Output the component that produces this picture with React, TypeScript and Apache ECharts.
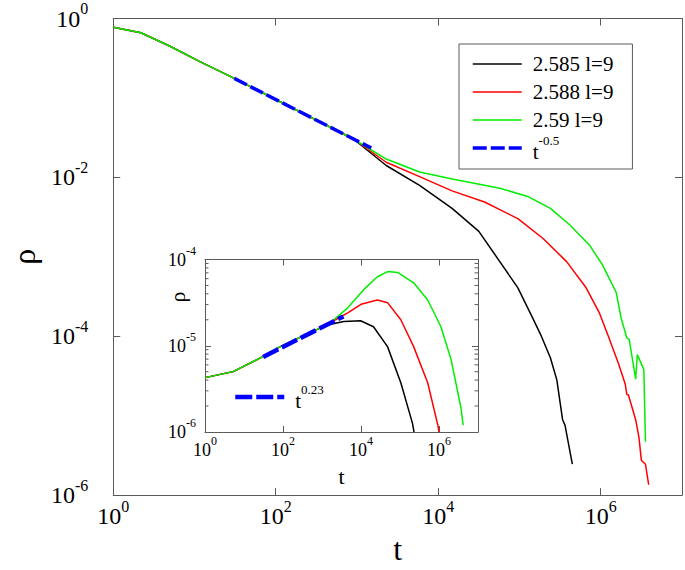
import React, { useEffect, useRef } from "react";
import * as echarts from "echarts";

const FONT = "Liberation Serif, Times New Roman, serif";

// ---------- main panel (t, rho) ----------
const sharedT = [1, 2.19, 5.0, 11.5, 30.9, 100, 316, 912];
const sharedRho = [0.776, 0.661, 0.447, 0.288, 0.176, 0.0955, 0.0525, 0.0302];

const blackT = [2290, 5890, 14800, 31600, 53700, 95500, 145000, 182000, 240000, 288000, 339000, 363000, 447000];
const blackRho = [0.0141, 0.00794, 0.00407, 0.00209, 9.55e-4, 4.07e-4, 1.7e-4, 1.05e-4, 5.37e-5, 2.82e-5, 8.9e-6, 7.6e-6, 2.45e-6];

const redT = [2290, 5890, 14800, 37200, 95500, 195000, 380000, 661000, 955000, 1.26e6, 1.66e6, 2.0e6, 2.09e6, 2.19e6, 2.69e6, 2.95e6, 3.16e6, 3.55e6, 3.89e6];
const redRho = [0.0155, 0.0102, 0.00676, 0.0049, 0.00302, 0.0017, 8.7e-4, 4.07e-4, 2.0e-4, 9.55e-5, 4.47e-5, 2.51e-5, 1.86e-5, 1.82e-5, 8.9e-6, 5.37e-6, 2.75e-6, 2.45e-6, 1.35e-6];

const greenT = [2290, 5890, 14800, 37200, 58900, 126000, 240000, 417000, 724000, 1.05e6, 1.55e6, 1.78e6, 2.09e6, 2.24e6, 2.69e6, 2.82e6, 3.39e6, 3.55e6];
const greenRho = [0.017, 0.0117, 0.00955, 0.00794, 0.00724, 0.00575, 0.00407, 0.00251, 0.00141, 7.9e-4, 3.55e-4, 1.7e-4, 9.55e-5, 9.1e-5, 2.88e-5, 5.9e-5, 3.8e-5, 4.7e-6];

const fitT = [30.9, 1500];
const fitRho = [0.176, 0.0234];

// ---------- inset panel (t, rho) ----------
const insetSharedT = [1, 5.25, 26.3, 85.1, 282, 759];
const insetSharedRho = [4.27e-6, 5.01e-6, 7.24e-6, 9.77e-6, 1.26e-5, 1.55e-5];

const insetBlackT = [1350, 3630, 9770, 20900, 47900, 105000, 209000, 229000];
const insetBlackRho = [1.74e-5, 1.91e-5, 1.95e-5, 1.66e-5, 9.77e-6, 3.72e-6, 1.26e-6, 1.0e-6];

const insetRedT = [1660, 4570, 10000, 26300, 47900, 105000, 224000, 513000, 933000, 1.0e6];
const insetRedRho = [1.86e-5, 2.4e-5, 3.02e-5, 3.39e-5, 3.16e-5, 2.0e-5, 9.77e-6, 3.72e-6, 1.2e-6, 1.0e-6];

const insetGreenT = [1660, 4570, 11700, 26300, 47900, 87100, 224000, 513000, 1.12e6, 2.04e6, 3.63e6, 4.17e6];
const insetGreenRho = [1.86e-5, 2.75e-5, 4.47e-5, 6.31e-5, 7.24e-5, 7.08e-5, 5.37e-5, 3.39e-5, 1.66e-5, 6.92e-6, 1.95e-6, 1.2e-6];

const insetFitT = [30.9, 3550];
const insetFitRho = [7.41e-6, 2.19e-5];

const insetMinorTicks = [2e-6, 3e-6, 4e-6, 5e-6, 6e-6, 7e-6, 8e-6, 9e-6, 2e-5, 3e-5, 4e-5, 5e-5, 6e-5, 7e-5, 8e-5, 9e-5];

// ---------- tick labels (exponents of 10) ----------
const mainXTickExps = [0, 2, 4, 6];
const mainYTickExps = [-6, -4, -2, 0];
const insetXTickExps = [0, 2, 4, 6];
const insetYTickExps = [-6, -5, -4];

const seriesNames = ["2.585 l=9", "2.588 l=9", "2.59 l=9", "t^-0.5"];
const insetFitName = "t^0.23";

const toLog = (ts: number[], rs: number[]) => ts.map((t, i) => [Math.log10(t), Math.log10(rs[i])]);

const AXIS_COLOR = "#5a5a5a";

const mainRich = {
  b: { fontFamily: FONT, fontSize: 24, lineHeight: 30, verticalAlign: "bottom", color: "#000" },
  s: { fontFamily: FONT, fontSize: 16, verticalAlign: "top", color: "#000" },
};
const insetRich = {
  b: { fontFamily: FONT, fontSize: 18, lineHeight: 24, verticalAlign: "bottom", color: "#000" },
  s: { fontFamily: FONT, fontSize: 12, verticalAlign: "top", color: "#000" },
};

const expLabel = (exps: number[]) => (v: number) => {
  const k = Math.round(v * 1000) / 1000;
  return exps.indexOf(k) >= 0 ? `{b|10}{s|${k}}` : "";
};

function axisBase(min: number, max: number, interval: number, tickLen: number) {
  return {
    type: "value",
    min,
    max,
    interval,
    axisLine: { show: true, onZero: false, lineStyle: { color: AXIS_COLOR, width: 1 } },
    axisTick: { show: true, inside: true, length: tickLen, lineStyle: { color: AXIS_COLOR, width: 1 } },
    splitLine: { show: false },
  };
}

export default function App() {
  const ref = useRef<HTMLDivElement>(null);

  useEffect(() => {
    if (!ref.current) return;
    const chart = echarts.init(ref.current, undefined, { renderer: "svg" });

    const legendRich = {
      b: { fontFamily: FONT, fontSize: 21, lineHeight: 28, verticalAlign: "bottom", color: "#000" },
      s: { fontFamily: FONT, fontSize: 13, verticalAlign: "top", color: "#000" },
    };

    const option: any = {
      animation: false,
      backgroundColor: "#fff",
      textStyle: { fontFamily: FONT },
      grid: [
        { left: 105.5, top: 18.5, width: 580, height: 482, containLabel: false },
        {
          left: 205,
          top: 259.5,
          width: 273,
          height: 172.5,
          show: true,
          backgroundColor: "#fff",
          borderWidth: 0,
          containLabel: false,
        },
      ],
      xAxis: [
        {
          ...axisBase(0, 7, 2, 7),
          gridIndex: 0,
          position: "bottom",
          axisLabel: { formatter: expLabel(mainXTickExps), margin: 3, rich: mainRich, fontFamily: FONT },
          name: "t",
          nameLocation: "middle",
          nameGap: 30,
          nameTextStyle: { fontFamily: FONT, fontSize: 32, color: "#000" },
        },
        { ...axisBase(0, 7, 2, 7), gridIndex: 0, position: "top", axisLabel: { show: false } },
        {
          ...axisBase(0, 7, 2, 6),
          gridIndex: 1,
          position: "bottom",
          axisLabel: { formatter: expLabel(insetXTickExps), margin: 3, rich: insetRich, fontFamily: FONT },
          name: "t",
          nameLocation: "middle",
          nameGap: 33,
          nameTextStyle: { fontFamily: FONT, fontSize: 22, color: "#000" },
        },
        { ...axisBase(0, 7, 2, 6), gridIndex: 1, position: "top", axisLabel: { show: false } },
      ],
      yAxis: [
        {
          ...axisBase(-6, 0, 2, 7),
          gridIndex: 0,
          position: "left",
          axisLabel: {
            formatter: expLabel(mainYTickExps),
            margin: 25,
            padding: [0, 0, 6, 0],
            rich: mainRich,
            fontFamily: FONT,
          },
          name: "ρ",
          nameLocation: "middle",
          nameGap: 64,
          nameTextStyle: { fontFamily: FONT, fontSize: 32, color: "#000" },
        },
        { ...axisBase(-6, 0, 2, 7), gridIndex: 0, position: "right", axisLabel: { show: false } },
        {
          ...axisBase(-6, -4, 1, 6),
          gridIndex: 1,
          position: "left",
          axisLabel: {
            formatter: expLabel(insetYTickExps),
            margin: 9,
            padding: [0, 0, 6, 0],
            rich: insetRich,
            fontFamily: FONT,
          },
        },
        { ...axisBase(-6, -4, 1, 6), gridIndex: 1, position: "right", axisLabel: { show: false } },
      ],
      legend: [
        {
          orient: "vertical",
          left: 459,
          top: 44,
          data: seriesNames,
          itemWidth: 49,
          itemHeight: 14,
          itemGap: 0,
          padding: [6, 19, 7, 12],
          borderColor: AXIS_COLOR,
          borderWidth: 1,
          backgroundColor: "#fff",
          selectedMode: false,
          itemStyle: { opacity: 0 },
          lineStyle: { width: "inherit" },
          textStyle: { fontFamily: FONT, fontSize: 21, color: "#000", lineHeight: 28, padding: [0, 0, 0, 6], rich: legendRich },
          formatter: (name: string) => (name === "t^-0.5" ? "{b|t}{s|-0.5}" : name),
        },
        {
          orient: "vertical",
          left: 233,
          top: 383,
          data: [insetFitName],
          itemWidth: 49,
          itemHeight: 14,
          padding: 0,
          selectedMode: false,
          itemStyle: { opacity: 0 },
          lineStyle: { width: "inherit" },
          textStyle: { fontFamily: FONT, fontSize: 21, color: "#000", lineHeight: 28, padding: [0, 0, 0, 6], rich: legendRich },
          formatter: () => "{b|t}{s|0.23}",
        },
      ],
      graphic: [
        {
          type: "text",
          x: 177,
          y: 297,
          rotation: Math.PI / 2,
          style: { text: "ρ", fontFamily: FONT, fontSize: 22, fill: "#000", align: "center", verticalAlign: "middle" },
        },
      ],
      series: [
        {
          name: seriesNames[0],
          type: "line",
          xAxisIndex: 0,
          yAxisIndex: 0,
          symbol: "none",
          data: toLog([...sharedT, ...blackT], [...sharedRho, ...blackRho]),
          lineStyle: { color: "#000", width: 1.5 },
          itemStyle: { color: "#000" },
        },
        {
          name: seriesNames[1],
          type: "line",
          xAxisIndex: 0,
          yAxisIndex: 0,
          symbol: "none",
          data: toLog([...sharedT, ...redT], [...sharedRho, ...redRho]),
          lineStyle: { color: "#ff0000", width: 1.5 },
          itemStyle: { color: "#ff0000" },
        },
        {
          name: seriesNames[2],
          type: "line",
          xAxisIndex: 0,
          yAxisIndex: 0,
          symbol: "none",
          data: toLog([...sharedT, ...greenT], [...sharedRho, ...greenRho]),
          lineStyle: { color: "#00ee00", width: 1.5 },
          itemStyle: { color: "#00ee00" },
        },
        {
          name: seriesNames[3],
          type: "line",
          xAxisIndex: 0,
          yAxisIndex: 0,
          symbol: "none",
          data: toLog(fitT, fitRho),
          lineStyle: { color: "#0000ff", width: 3.5, type: [14, 4] },
          itemStyle: { color: "#0000ff" },
          z: 5,
        },
        {
          name: "inset 2.585",
          type: "line",
          xAxisIndex: 2,
          yAxisIndex: 2,
          symbol: "none",
          data: toLog([...insetSharedT, ...insetBlackT], [...insetSharedRho, ...insetBlackRho]),
          lineStyle: { color: "#000", width: 1.5 },
          z: 6,
        },
        {
          name: "inset 2.588",
          type: "line",
          xAxisIndex: 2,
          yAxisIndex: 2,
          symbol: "none",
          data: toLog([...insetSharedT, ...insetRedT], [...insetSharedRho, ...insetRedRho]),
          lineStyle: { color: "#ff0000", width: 1.5 },
          z: 6,
        },
        {
          name: "inset 2.59",
          type: "line",
          xAxisIndex: 2,
          yAxisIndex: 2,
          symbol: "none",
          data: toLog([...insetSharedT, ...insetGreenT], [...insetSharedRho, ...insetGreenRho]),
          lineStyle: { color: "#00ee00", width: 1.5 },
          z: 6,
        },
        {
          name: insetFitName,
          type: "line",
          xAxisIndex: 2,
          yAxisIndex: 2,
          symbol: "none",
          data: toLog(insetFitT, insetFitRho),
          lineStyle: { color: "#0000ff", width: 4.5, type: [17, 4] },
          itemStyle: { color: "#0000ff" },
          z: 7,
        },
        {
          name: "inset minor ticks",
          type: "custom",
          xAxisIndex: 2,
          yAxisIndex: 2,
          silent: true,
          clip: false,
          z: 8,
          data: insetMinorTicks.map((v) => [0, Math.log10(v)]),
          renderItem: (params: any, api: any) => {
            const cs = params.coordSys;
            const p = api.coord([api.value(0), api.value(1)]);
            const y = p[1];
            const st = { stroke: AXIS_COLOR, lineWidth: 1 };
            return {
              type: "group",
              children: [
                { type: "line", shape: { x1: cs.x, y1: y, x2: cs.x + 3.5, y2: y }, style: st },
                { type: "line", shape: { x1: cs.x + cs.width, y1: y, x2: cs.x + cs.width - 3.5, y2: y }, style: st },
              ],
            };
          },
        },
      ],
    };

    chart.setOption(option);
    return () => chart.dispose();
  }, []);

  return (
    <div
      ref={ref}
      style={{ position: "absolute", left: 0, top: 0, width: 685, height: 570, background: "#fff" }}
    />
  );
}
